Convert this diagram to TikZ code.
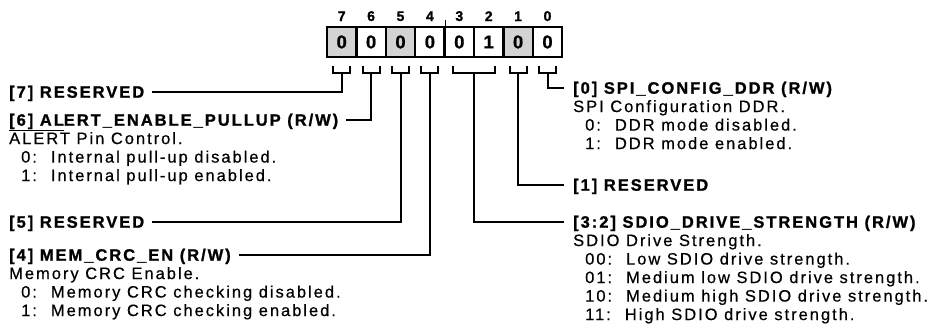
\documentclass[tikz,border=0pt]{standalone}
\usepackage{fontspec}
\setmainfont{Liberation Sans}
\newfontfamily\headfont[LetterSpace=12, FakeBold=1.2]{Liberation Sans}
\newfontfamily\bodyfont[LetterSpace=12, FakeBold=0.5]{Liberation Sans}
\newfontfamily\digitfont[FakeBold=1]{Liberation Sans}
\usetikzlibrary{positioning, calc}
\definecolor{resgray}{RGB}{211,211,211}
\tikzset{
	cell/.style={draw, line width=2.4pt, minimum width=29.4pt, minimum height=30pt, inner sep=0pt, font=\fontsize{18.5}{21}\digitfont\bfseries}
}
\tikzset{
	bitnum/.style={inner sep=0pt, font=\fontsize{14}{16}\digitfont\bfseries}
}
\tikzset{
	wire/.style={line width=2pt}
}
\tikzset{
	headtext/.style={anchor=west, inner sep=0pt, text height=12.4pt, text depth=1pt, font=\fontsize{16.5}{19}\headfont\bfseries}
}
\tikzset{
	desctext/.style={inner sep=0pt, align=left, font=\fontsize{16.5}{18.5}\bodyfont}
}
\newcommand{\bitval}[2]{\hspace*{12pt}#1:\hspace{14pt}#2}

\begin{document}
\begin{tikzpicture}[x=1pt, y=1pt]
      \useasboundingbox (0,0) rectangle (932,-336);
      \foreach \b/\v/\f in {7/0/resgray, 6/0/white, 5/0/resgray, 4/0/white, 3/0/white, 2/1/white, 1/0/resgray, 0/0/white}{
        \node[cell, fill=\f] (c\b) at ({327+(7.5-\b)*29.4}, -42) {\v};
        \node[bitnum, above=4.5pt of c\b] (n\b) {\b};
      }
      \draw[line width=1.2pt] (c4.north east) -- ++(0,6pt);
      \foreach \b in {7,6,5,4,1,0}{
        \coordinate (k\b) at ([yshift=-15pt]c\b.south);
        \draw[wire] ([shift={(-8.5pt,7pt)}]k\b) |- ([xshift=8.5pt]k\b) -- ++(0,7pt);
      }
      \coordinate (k32) at ($(c3.south)!0.5!(c2.south)+(0,-15pt)$);
      \draw[wire] ([shift={(-21pt,7pt)}]k32) |- ([xshift=21pt]k32) -- ++(0,7pt);

      \node[headtext] (f7) at (9,-92) {[7] RESERVED};
      \node[headtext] (f6) at (9,-120) {\underline{[6] AL}ERT\_ENABLE\_PULLUP (R/W)};
      \node[desctext, below right=5pt and 0pt of f6.south west] (d6) {ALERT Pin Control.\\
        \bitval{0}{Internal pull-up disabled.}\\
        \bitval{1}{Internal pull-up enabled.}};
      \node[headtext] (f5) at (9,-222) {[5] RESERVED};
      \node[headtext] (f4) at (9,-255) {[4] MEM\_CRC\_EN (R/W)};
      \node[desctext, below right=5pt and 0pt of f4.south west] (d4) {Memory CRC Enable.\\
        \bitval{0}{Memory CRC checking disabled.}\\
        \bitval{1}{Memory CRC checking enabled.}};

      \node[headtext] (f0) at (573,-88) {[0] SPI\_CONFIG\_DDR (R/W)};
      \node[desctext, below right=5pt and 0pt of f0.south west] (d0) {SPI Configuration DDR.\\
        \bitval{0}{DDR mode disabled.}\\
        \bitval{1}{DDR mode enabled.}};
      \node[headtext] (f1) at (573,-185) {[1] RESERVED};
      \node[headtext] (f32) at (573,-222) {[3:2] SDIO\_DRIVE\_STRENGTH (R/W)};
      \node[desctext, below right=5pt and 0pt of f32.south west] (d32) {SDIO Drive Strength.\\
        \bitval{00}{Low SDIO drive strength.}\\
        \bitval{01}{Medium low SDIO drive strength.}\\
        \bitval{10}{Medium high SDIO drive strength.}\\
        \bitval{11}{High SDIO drive strength.}};

      \draw[wire] (k7) |- ([xshift=8pt]f7.east);
      \draw[wire] (k6) |- ([xshift=8pt]f6.east);
      \draw[wire] (k5) |- ([xshift=8pt]f5.east);
      \draw[wire] (k4) |- ([xshift=8pt]f4.east);
      \draw[wire] (k0) |- ([xshift=-9pt]f0.west);
      \draw[wire] (k1) |- ([xshift=-9pt]f1.west);
      \draw[wire] (k32) |- ([xshift=-9pt]f32.west);
    \end{tikzpicture}
\end{document}
